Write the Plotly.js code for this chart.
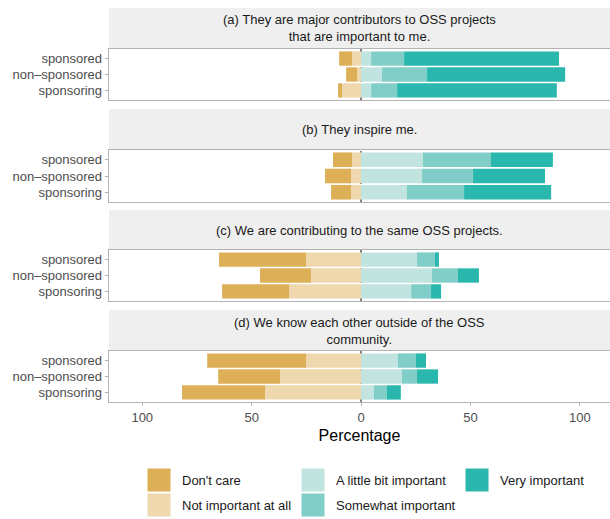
<!DOCTYPE html>
<html>
<head>
<meta charset="utf-8">
<script src="https://cdn.plot.ly/plotly-3.0.1.min.js"></script>
<style>html,body{margin:0;padding:0;background:#fff}#chart{width:610px;height:519px}</style>
</head>
<body>
<div id="chart"></div>
<script>
// ---- data (percentages) ----
const groups = ['sponsored', 'non\u2013sponsored', 'sponsoring'];
const panelTitles = [
  '(a) They are major contributors to OSS projects<br>that are important to me.',
  '(b) They inspire me.',
  '(c) We are contributing to the same OSS projects.',
  '(d) We know each other outside of the OSS<br>community.'
];
const levels = ["Don't care", 'Not important at all', 'A little bit important', 'Somewhat important', 'Very important'];
// each array: panel a (sponsored, non-sponsored, sponsoring), then b, c, d
const dontCare     = [5.9, 5.0, 1.8,   8.7, 11.9, 9.1,   39.8, 23.3, 30.6,   45.2, 28.3, 37.9];
const notImportant = [4.1, 1.8, 8.7,   4.1, 4.6, 4.6,    25.1, 22.9, 32.9,   25.1, 37.0, 43.9];
const littleBit    = [4.6, 9.6, 4.6,   28.3, 27.9, 21.0, 25.6, 32.4, 22.9,   16.9, 18.7, 5.9];
const somewhat     = [15.1, 20.6, 11.9, 31.1, 23.3, 26.1, 8.2, 11.9, 9.1,    8.2, 6.9, 5.9];
const veryImp      = [70.8, 63.1, 73.0, 28.3, 32.9, 39.8, 1.8, 9.6, 4.6,     4.6, 9.6, 6.4];
const xTickVals = [-100, -50, 0, 50, 100];
const xTickText = ['100', '50', '0', '50', '100'];

// ---- styling ----
const colors = {
  "Don't care": '#DDAF56',
  'Not important at all': '#EFD7AE',
  'A little bit important': '#C1E4E0',
  'Somewhat important': '#80CEC7',
  'Very important': '#2AB7AD'
};
const FONT = 'Liberation Sans, Arial, Helvetica, sans-serif';
const W = 610, H = 519, L = 109;
const px2x = p => (p - L) / (W - L);
const py2y = p => 1 - p / H;

// panel pixel extents (top, bottom) and strip extents
const panelPx = [[49, 100], [150, 202], [250, 301], [351, 402]];
const stripPx = [[8, 49], [109, 150], [210, 250], [310, 351]];

// stacking order: negative side nearest zero first
const stackOrder = [
  ['Not important at all', notImportant, -1],
  ["Don't care", dontCare, -1],
  ['A little bit important', littleBit, 1],
  ['Somewhat important', somewhat, 1],
  ['Very important', veryImp, 1]
];

const traces = [];
for (let p = 0; p < 4; p++) {
  const sfx = p === 0 ? '' : String(p + 1);
  stackOrder.forEach(([name, arr, sign]) => {
    traces.push({
      type: 'bar', orientation: 'h',
      x: arr.slice(p * 3, p * 3 + 3).map(v => sign * v),
      y: groups,
      name: name, showlegend: false,
      marker: {color: colors[name], line: {width: 0}},
      xaxis: 'x' + sfx, yaxis: 'y' + sfx,
      hovertemplate: name + ': %{customdata}%<extra></extra>',
      customdata: arr.slice(p * 3, p * 3 + 3)
    });
  });
}

const layout = {
  width: W, height: H,
  margin: {l: L, r: 0, t: 0, b: 0},
  paper_bgcolor: '#fff', plot_bgcolor: 'rgba(0,0,0,0)',
  barmode: 'relative', bargap: 0.1,
  font: {family: FONT, size: 13, color: '#1a1a1a'},
  showlegend: false,
  shapes: [], annotations: []
};

for (let p = 0; p < 4; p++) {
  const sfx = p === 0 ? '' : String(p + 1);
  const [top, bot] = panelPx[p];
  layout['xaxis' + sfx] = {
    domain: [0, 1], anchor: 'y' + sfx,
    range: [-115.2, 113.8], fixedrange: true,
    showgrid: false, zeroline: false,
    showline: true, mirror: true, linecolor: '#b3b3b3', linewidth: 1.3,
    tickmode: 'array', tickvals: xTickVals, ticktext: xTickText,
    showticklabels: p === 3,
    ticks: p === 3 ? 'outside' : '', ticklen: 3, tickcolor: '#b3b3b3',
    tickfont: {size: 13, color: '#4d4d4d', family: FONT},
    title: p === 3 ? {text: 'Percentage', font: {size: 16, color: '#000', family: FONT}, standoff: 6} : {text: ''}
  };
  layout['yaxis' + sfx] = {
    domain: [py2y(bot), py2y(top)], anchor: 'x' + sfx,
    type: 'category', categoryorder: 'array', categoryarray: groups,
    tickmode: 'array', tickvals: groups, ticktext: groups,
    range: [2.6, -0.6], fixedrange: true,
    showgrid: false, zeroline: false,
    showline: true, mirror: true, linecolor: '#b3b3b3', linewidth: 1.3,
    ticks: 'outside', ticklen: 3, tickcolor: '#b3b3b3',
    tickfont: {size: 13, color: '#4d4d4d', family: FONT}
  };
  // dotted zero reference line
  layout.shapes.push({
    type: 'line', xref: 'x' + sfx, yref: 'y' + sfx + ' domain',
    x0: 0, x1: 0, y0: 0, y1: 1, layer: 'below',
    line: {color: '#000', width: 1, dash: 'dot'}
  });
  // strip background
  const [st, sb] = stripPx[p];
  layout.shapes.push({
    type: 'rect', xref: 'paper', yref: 'paper',
    x0: 0, x1: 1, y0: py2y(sb), y1: py2y(st),
    fillcolor: '#efefef', line: {width: 0}, layer: 'below'
  });
  layout.annotations.push({
    xref: 'paper', yref: 'paper', x: px2x(359.5), y: py2y((st + sb) / 2),
    xanchor: 'center', yanchor: 'middle', showarrow: false,
    text: panelTitles[p], align: 'center',
    font: {size: 13, color: '#1a1a1a', family: FONT}
  });
}

// manual legend (3 columns x 2 rows, like the reference)
const legendPos = {
  "Don't care": [147, 468, 179.5],
  'Not important at all': [147, 493, 179.5],
  'A little bit important': [301, 468, 334],
  'Somewhat important': [301, 493, 334],
  'Very important': [465, 468, 498]
};
levels.forEach(name => {
  const [kx, ky, tx] = legendPos[name];
  layout.shapes.push({
    type: 'rect', xref: 'paper', yref: 'paper',
    x0: px2x(kx), x1: px2x(kx + 24), y0: py2y(ky + 24), y1: py2y(ky),
    fillcolor: colors[name], line: {color: '#fff', width: 1}, layer: 'above'
  });
  layout.annotations.push({
    xref: 'paper', yref: 'paper', x: px2x(tx), y: py2y(ky + 12),
    xanchor: 'left', yanchor: 'middle', showarrow: false,
    text: name, font: {size: 13, color: '#1a1a1a', family: FONT}
  });
});

Plotly.newPlot('chart', traces, layout, {displayModeBar: false, staticPlot: true});
</script>
</body>
</html>
